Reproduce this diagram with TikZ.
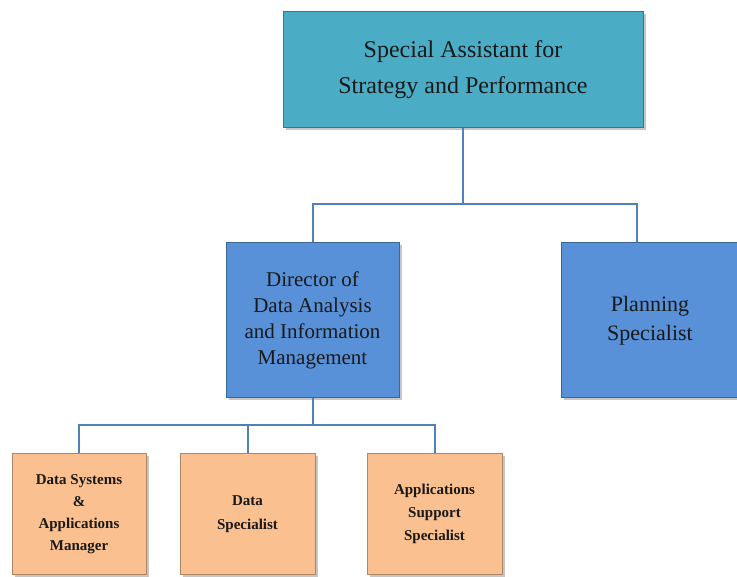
\documentclass[tikz,border=0pt]{standalone}
\usepackage{fontspec}
\setmainfont{Liberation Serif}
\usetikzlibrary{shadows}
\usetikzlibrary{positioning}
\definecolor{topteal}{RGB}{75,172,198}
\definecolor{midblue}{RGB}{88,145,216}
\definecolor{lowpeach}{RGB}{250,192,144}
\definecolor{linkblue}{RGB}{79,129,189}

\begin{document}
\begin{tikzpicture}[x=1pt,y=-1pt,
    box/.style={draw=#1!70!black, line width=1pt, fill=#1, inner sep=0pt,
      align=center, text=black!90, drop shadow={shadow xshift=2.5pt, shadow yshift=-2.5pt, opacity=0.45}},
    link/.style={draw=linkblue, line width=2pt}]
      \useasboundingbox (0,0) rectangle (737,577);
      \node[box=topteal, minimum width=360pt, minimum height=116pt,
        font=\fontsize{24}{36}\selectfont] (spec) at (463,70)
        {Special Assistant for\\Strategy and Performance};
      \node[box=midblue, minimum width=173pt, minimum height=155pt,
        font=\fontsize{21}{26}\selectfont] (dir) at (312.5,320.5)
        {Director of\\Data Analysis\\and Information\\Management};
      \node[box=midblue, minimum width=178pt, minimum height=155pt,
        font=\fontsize{22}{29}\selectfont] (plan) at (650,320.5)
        {Planning\\Specialist};
      \node[box=lowpeach, minimum width=134pt, minimum height=121pt,
        font=\bfseries\fontsize{15}{22}\selectfont] (dsam) at (79,514)
        {Data Systems\\\&\\Applications\\Manager};
      \node[box=lowpeach, minimum width=135pt, minimum height=121pt,
        font=\bfseries\fontsize{15}{24}\selectfont] (dspec) at (247.5,514)
        {Data\\Specialist};
      \node[box=lowpeach, minimum width=135pt, minimum height=121pt,
        font=\bfseries\fontsize{15}{23}\selectfont] (aspec) at (434.5,514)
        {Applications\\Support\\Specialist};
      \draw[link] (spec.south) -- ++(0,76) -| (dir.north);
      \draw[link] (spec.south) -- ++(0,76) -| ([xshift=-13pt]plan.north);
      \draw[link] (dir.south) -- ++(0,27) -| (dsam.north);
      \draw[link] (dir.south) -- ++(0,27) -| (dspec.north);
      \draw[link] (dir.south) -- ++(0,27) -| (aspec.north);
  \end{tikzpicture}
\end{document}
